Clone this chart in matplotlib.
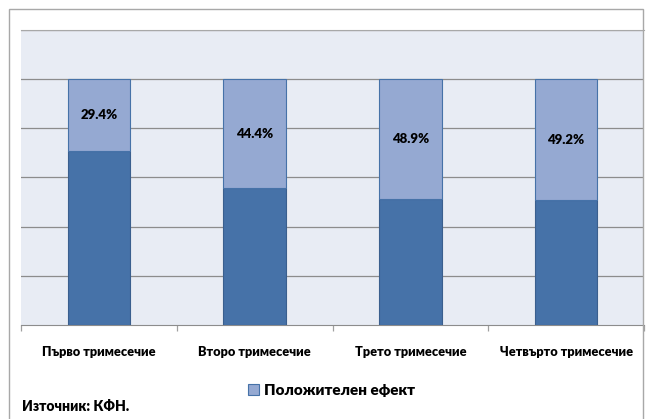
import matplotlib.pyplot as plt
from matplotlib.patches import Rectangle
import numpy as np

# quarterly shares, positive effect on top of the remainder
quarters = ['Първо тримесечие', 'Второ тримесечие', 'Трето тримесечие', 'Четвърто тримесечие']
positive = [29.4, 44.4, 48.9, 49.2]
rest = [70.6, 55.6, 51.1, 50.8]

plt.rcParams['font.family'] = ['Lato', 'DejaVu Sans']

fig = plt.figure(figsize=(6.5, 4.19), dpi=100)
ax = fig.add_axes([21/650, 1 - 325/419, 623/650, 295/419])
ax.set_facecolor('#E8ECF4')

x = np.arange(len(quarters))
pos = np.array(positive) / 100
rst = np.array(rest) / 100
ax.bar(x, rst, width=0.4, color='#4672A8', edgecolor='#3A5F8E', linewidth=0.8, zorder=3)
bars = ax.bar(x, pos, width=0.4, bottom=rst, color='#95A9D2', edgecolor='#4672A8',
              linewidth=0.8, zorder=3, label='Положителен ефект')
for xi, b, p in zip(x, rst, positive):
    ax.text(xi, b + p / 200, f'{p:.1f}%', ha='center', va='center',
            fontsize=9.5, fontweight='heavy', zorder=4)

ax.set_xlim(-0.5, 3.5)
ax.set_ylim(0, 1.2)
ax.set_yticks(np.arange(0.2, 1.21, 0.2))
ax.set_yticklabels([])
ax.tick_params(axis='y', length=0)
ax.grid(axis='y', color='#8C8C8C', linewidth=0.9, zorder=1)

ax.set_xticks(x)
ax.set_xticklabels(quarters, fontsize=9.2, fontweight='heavy')
ax.tick_params(axis='x', length=0, pad=15)
ax.set_xticks(np.arange(-0.5, 3.6, 1), minor=True)
ax.tick_params(axis='x', which='minor', length=4, color='#A0A0A0', width=0.9)

for s in ['left', 'right']:
    ax.spines[s].set_visible(False)
ax.spines['top'].set_color('#A8A8A8')
ax.spines['bottom'].set_color('#8C8C8C')

# outer chart frame
fig.patches.append(Rectangle((9/650, -0.05), 634/650, 1.05 - 9/419,
                             transform=fig.transFigure, fill=False,
                             edgecolor='#A8A8A8', linewidth=1.0))

fig.legend(handles=[bars], loc='center', bbox_to_anchor=(0.51, 1 - 390/419),
           frameon=False, prop={'weight': 'heavy', 'size': 11},
           handlelength=0.7, handleheight=0.7, handletextpad=0.3)

fig.text(22/650, 1 - 406/419, 'Източник: КФН.', fontsize=10, fontweight='heavy',
         va='center', ha='left')

fig.savefig('out.png', dpi=100)
